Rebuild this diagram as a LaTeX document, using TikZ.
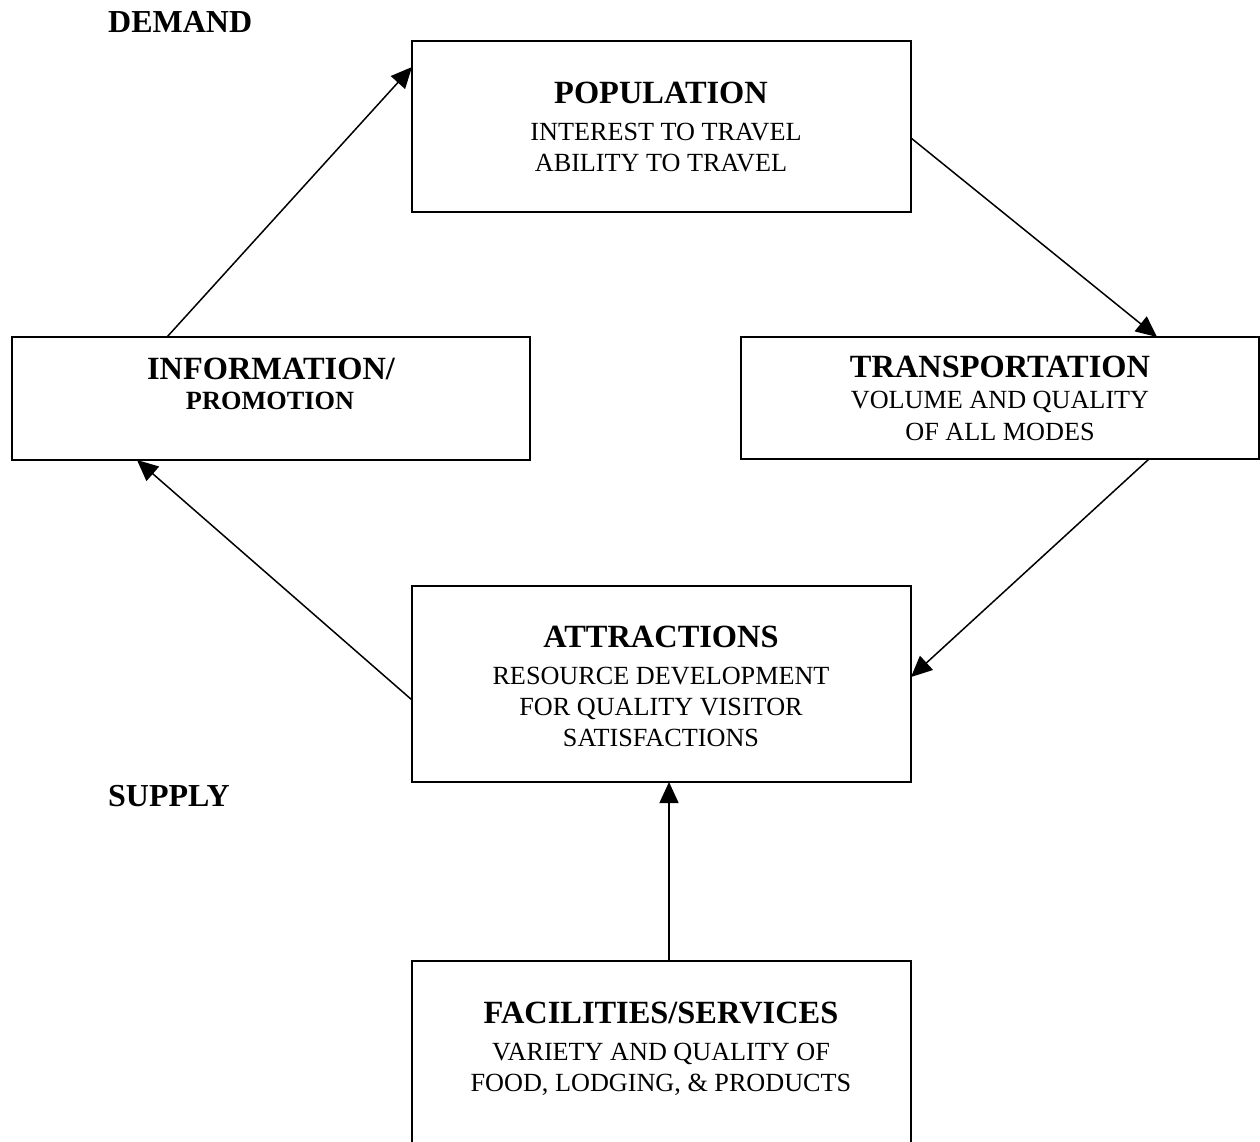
\documentclass[tikz,border=0pt]{standalone}
\usepackage{fontspec}
\setmainfont{Liberation Serif}
\usetikzlibrary{arrows.meta}
\tikzset{
  box/.style={draw, line width=2pt, inner sep=0pt, outer sep=0pt},
  openbox/.style={inner sep=0pt, outer sep=0pt},
  ttl/.style={anchor=base, inner sep=0pt, font=\fontsize{32.4}{36}\selectfont\bfseries},
  side/.style={anchor=base west, inner sep=0pt, font=\fontsize{32}{36}\selectfont\bfseries},
  sub/.style={anchor=base, inner sep=0pt, font=\fontsize{26.3}{30}\selectfont\bfseries},
  txt/.style={anchor=base, inner sep=0pt, font=\fontsize{26.2}{30}\selectfont},
  arr/.style={line width=1.5pt, -{Triangle[length=21pt,width=19pt]}}
}
\begin{document}
\begin{tikzpicture}[x=1pt,y=-1pt]
\useasboundingbox (0,0) rectangle (1260,1141);
\fill[white] (0,0) rectangle (1260,1141);

% boxes
\node[box, minimum width=499pt, minimum height=171pt] (pop) at (661.5,126.5) {};
\node[box, minimum width=518pt, minimum height=123pt] (info) at (271,398.5) {};
\node[box, minimum width=518pt, minimum height=122pt] (trans) at (1000,398) {};
\node[box, minimum width=499pt, minimum height=196pt] (attr) at (661.5,684) {};
\node[openbox, minimum width=499pt, minimum height=190pt] (fac) at (661.5,1056) {};
\draw[line width=2pt] (fac.south west) -- (fac.north west) -- (fac.north east) -- (fac.south east);

% texts
\node[side] (demand) at (108,32) {DEMAND};
\node[side] (supply) at (108,806) {SUPPLY};

\node[ttl] (popt) at (661,103) {POPULATION};
\node[txt] (pop1) at (666,140) {INTEREST TO TRAVEL};
\node[txt] (pop2) at (661,171) {ABILITY TO TRAVEL};

\node[ttl] (infot) at (271,379) {INFORMATION/};
\node[sub] (info1) at (270,409) {PROMOTION};

\node[ttl] (transt) at (1000,377) {TRANSPORTATION};
\node[txt] (trans1) at (1000,408) {VOLUME AND QUALITY};
\node[txt] (trans2) at (1000,440) {OF ALL MODES};

\node[ttl] (attrt) at (661,647) {ATTRACTIONS};
\node[txt] (attr1) at (661,684) {RESOURCE DEVELOPMENT};
\node[txt] (attr2) at (661,715) {FOR QUALITY VISITOR};
\node[txt] (attr3) at (661,746) {SATISFACTIONS};

\node[ttl] (fact) at (661,1023) {FACILITIES/SERVICES};
\node[txt] (fac1) at (661,1060) {VARIETY AND QUALITY OF};
\node[txt] (fac2) at (661,1091) {FOOD, LODGING, \& PRODUCTS};

% arrows
\draw[arr] ([xshift=155pt]info.north west) -- ([yshift=-26pt]pop.north west);
\draw[arr] ([yshift=-97pt]pop.north east) -- ([xshift=416pt]trans.north west);
\draw[arr] ([xshift=408pt]trans.south west) -- ([yshift=-91pt]attr.north east);
\draw[arr] ([yshift=-114pt]attr.north west) -- ([xshift=125pt]info.south west);
\draw[arr] ([xshift=257pt]fac.north west) -- ([xshift=257pt]attr.south west);
\end{tikzpicture}
\end{document}
